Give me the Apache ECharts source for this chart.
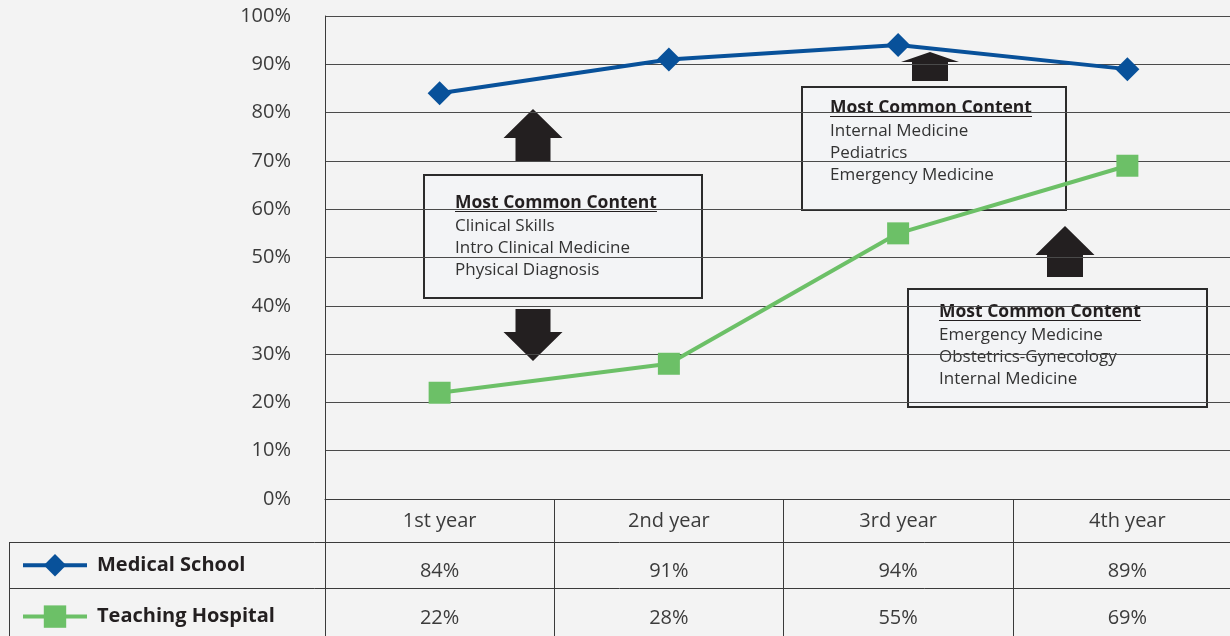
<!DOCTYPE html>
<html>
<head>
<meta charset="utf-8">
<script src="https://cdn.jsdelivr.net/npm/echarts@6/dist/echarts.min.js"></script>
<style>
  html, body { margin: 0; padding: 0; background: #f3f3f3; }
  #chart { width: 1230px; height: 636px; }
</style>
</head>
<body>
<div id="chart"></div>
<script>
// data
const years = ['1st year', '2nd year', '3rd year', '4th year']
const medicalSchool = [84, 91, 94, 89]
const teachingHospital = [22, 28, 55, 69]
const yTicks = [0, 10, 20, 30, 40, 50, 60, 70, 80, 90, 100]

const contentNotes = [
  ['Clinical Skills', 'Intro Clinical Medicine', 'Physical Diagnosis'],
  ['Internal Medicine', 'Pediatrics', 'Emergency Medicine'],
  ['Emergency Medicine', 'Obstetrics-Gynecology', 'Internal Medicine']
]

const FONT = '"Open Sans", "Noto Sans", sans-serif'
const INK = '#231f20'
const LINE = '#3a3a3a'
const TITLE_FONT = 'bold 17.5px ' + FONT

// width of the box title, for the underline
const measureCtx = document.createElement('canvas').getContext('2d')
measureCtx.font = TITLE_FONT
const titleWidth = measureCtx.measureText('Most Common Content').width

// block arrow, up or down
function arrow(cx, tip, neck, end, hw, sw) {
  return {
    type: 'polygon',
    shape: {
      points: [
        [cx, tip], [cx + hw, neck], [cx + sw, neck], [cx + sw, end],
        [cx - sw, end], [cx - sw, neck], [cx - hw, neck]
      ]
    },
    style: { fill: INK }
  }
}

// box with "Most Common Content" list
function noteBox(x, y, w, h, tx, ty, lines) {
  const els = [{
    type: 'rect',
    shape: { x: x, y: y, width: w, height: h },
    style: { fill: '#f3f4f6', stroke: '#2b2b2b', lineWidth: 2 }
  }, {
    type: 'text',
    style: { x: tx, y: ty, text: 'Most Common Content', font: TITLE_FONT, fill: INK, verticalAlign: 'middle' }
  }, {
    type: 'line',
    shape: { x1: tx, y1: ty + 8.5, x2: tx + titleWidth, y2: ty + 8.5 },
    style: { stroke: INK, lineWidth: 1.2 }
  }]
  lines.forEach((t, i) => {
    els.push({
      type: 'text',
      style: { x: tx, y: ty + 23 + i * 22, text: t, font: '17px ' + FONT, fill: '#333', verticalAlign: 'middle' }
    })
  })
  return els
}

const graphics = [].concat(
  arrow(533, 109, 138, 161, 29.5, 17.5),
  arrow(533, 361, 332, 309, 29.5, 17.5),
  arrow(930, 52, 62, 81, 29, 18),
  arrow(1065, 226, 255, 277, 29.5, 18),
  noteBox(424, 175, 278, 123, 455, 203, contentNotes[0]),
  noteBox(802, 87, 264, 123, 830, 108, contentNotes[1]),
  noteBox(908, 289, 299, 118, 939, 312, contentNotes[2]),
  [
    // table row rules
    { type: 'line', shape: { x1: 9, y1: 542.5, x2: 1230, y2: 542.5 }, style: { stroke: LINE, lineWidth: 1 } },
    { type: 'line', shape: { x1: 9, y1: 588.5, x2: 1230, y2: 588.5 }, style: { stroke: LINE, lineWidth: 1 } },
    { type: 'line', shape: { x1: 9.5, y1: 542, x2: 9.5, y2: 636 }, style: { stroke: LINE, lineWidth: 1 } }
  ]
)

const chart = echarts.init(document.getElementById('chart'))
chart.setOption({
  backgroundColor: '#f3f3f3',
  animation: false,
  textStyle: { fontFamily: FONT },
  legend: {
    orient: 'vertical',
    left: 16,
    top: 549,
    itemWidth: 64,
    itemHeight: 28,
    itemGap: 29,
    lineStyle: { width: 4 },
    textStyle: { fontSize: 20, fontWeight: 'bold', color: INK, padding: [0, 0, 0, 5] },
    data: ['Medical School', 'Teaching Hospital']
  },
  grid: [
    { left: 325, top: 16, width: 917, height: 483, outerBoundsMode: 'none' },
    { left: 325, top: 499, width: 917, height: 137, outerBoundsMode: 'none' }
  ],
  xAxis: [{
    type: 'category',
    data: years,
    axisLine: { show: true, lineStyle: { color: LINE } },
    axisTick: { show: false },
    axisLabel: {
      margin: 0,
      formatter: (v, i) => `{h|${v}}\n{a|${medicalSchool[i]}%}\n{b|${teachingHospital[i]}%}`,
      rich: {
        h: { fontSize: 20, color: '#3b3b3b', lineHeight: 44, fontFamily: FONT },
        a: { fontSize: 20, color: '#3b3b3b', lineHeight: 56, fontFamily: FONT },
        b: { fontSize: 20, color: '#3b3b3b', lineHeight: 38, fontFamily: FONT }
      }
    },
    splitLine: {
      show: true,
      interval: (i) => i === 2,
      lineStyle: { color: LINE, width: 1 }
    }
  }, {
    type: 'category',
    gridIndex: 1,
    data: years,
    axisLine: { show: false },
    axisTick: { show: false },
    axisLabel: { show: false },
    splitLine: { show: true, lineStyle: { color: LINE, width: 1 } }
  }],
  yAxis: [{
    type: 'value',
    min: yTicks[0],
    max: yTicks[yTicks.length - 1],
    interval: 10,
    axisLine: { show: true, lineStyle: { color: LINE } },
    axisTick: { show: false },
    axisLabel: { margin: 34, fontSize: 20, color: '#3b3b3b', formatter: '{value}%' },
    splitLine: { lineStyle: { color: '#4a4a4a', width: 1 } }
  }, {
    type: 'value',
    gridIndex: 1,
    show: false
  }],
  series: [{
    name: 'Medical School',
    type: 'line',
    data: medicalSchool,
    symbol: 'diamond',
    symbolSize: 24,
    color: '#08519a',
    lineStyle: { width: 4, color: '#08519a' },
    itemStyle: { color: '#08519a' }
  }, {
    name: 'Teaching Hospital',
    type: 'line',
    data: teachingHospital,
    symbol: 'rect',
    symbolSize: 22,
    color: '#6cc067',
    lineStyle: { width: 4, color: '#6cc067' },
    itemStyle: { color: '#6cc067' }
  }],
  graphic: graphics
})
</script>
</body>
</html>
